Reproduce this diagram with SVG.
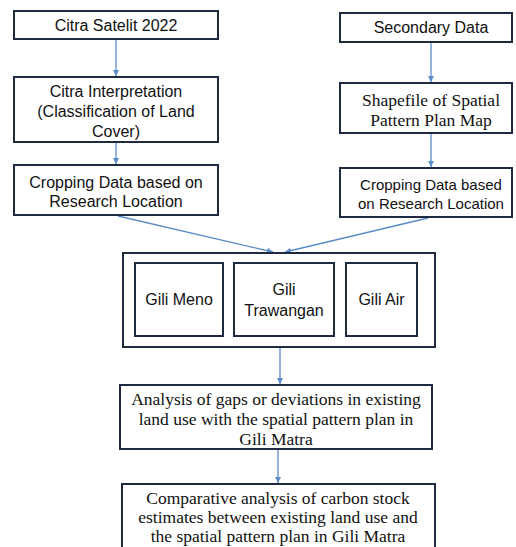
<svg xmlns="http://www.w3.org/2000/svg" width="516" height="547" viewBox="0 0 516 547">
<style>
.box{fill:#fff;stroke:#1e2a40;stroke-width:2}
.sans{font-family:"Liberation Sans",Arial,sans-serif;font-size:16px;fill:#111;text-anchor:middle}
.sm{font-size:15px}
.serif{font-family:"Liberation Serif","Times New Roman",serif;font-size:17.5px;fill:#111;text-anchor:middle}
.con{stroke:#5b8cc8;stroke-width:1.3;fill:none;marker-end:url(#ah)}
</style>
<defs>
<marker id="ah" markerWidth="8" markerHeight="8" refX="6" refY="3" orient="auto" markerUnits="userSpaceOnUse">
<path d="M0,0 L6,3 L0,6 Z" fill="#5b8cc8"/>
</marker>
</defs>
<rect width="516" height="547" fill="#fff"/>
<g id="connectors">
<line class="con" x1="116" y1="40" x2="116" y2="76"/>
<line class="con" x1="116" y1="143" x2="116" y2="164"/>
<line class="con" x1="431" y1="43" x2="431" y2="82"/>
<line class="con" x1="431" y1="134" x2="431" y2="167"/>
<line class="con" x1="118" y1="216" x2="273" y2="252"/>
<line class="con" x1="428" y1="218" x2="285" y2="252"/>
<line class="con" x1="280" y1="348" x2="280" y2="384"/>
<line class="con" x1="278" y1="450" x2="278" y2="483"/>
</g>
<g id="n1"><rect class="box" x="14" y="11" width="204" height="28"/><text class="sans" x="116" y="31">Citra Satelit 2022</text></g>
<g id="n2"><rect class="box" x="14" y="77" width="204" height="65"/>
<text class="sans" x="116" y="97">Citra Interpretation</text>
<text class="sans" x="116" y="117">(Classification of Land</text>
<text class="sans" x="116" y="137">Cover)</text></g>
<g id="n3"><rect class="box" x="14" y="165" width="204" height="50"/>
<text class="sans" x="116" y="188">Cropping Data based on</text>
<text class="sans" x="116" y="207">Research Location</text></g>
<g id="n4"><rect class="box" x="340" y="13" width="172" height="29"/><text class="sans" x="431" y="33">Secondary Data</text></g>
<g id="n5"><rect class="box" x="340" y="83" width="172" height="50"/>
<text class="serif" x="431" y="106">Shapefile of Spatial</text>
<text class="serif" x="431" y="126">Pattern Plan Map</text></g>
<g id="n6"><rect class="box" x="340" y="168" width="172" height="49"/>
<text class="sans sm" x="431" y="190">Cropping Data based</text>
<text class="sans sm" x="431" y="209">on Research Location</text></g>
<g id="n7"><rect class="box" x="123" y="253" width="312" height="94"/></g>
<g id="n8"><rect class="box" x="135" y="263" width="88" height="73"/><text class="sans" x="179" y="305">Gili Meno</text></g>
<g id="n9"><rect class="box" x="234" y="263" width="100" height="73"/>
<text class="sans" x="284" y="295">Gili</text>
<text class="sans" x="284" y="316">Trawangan</text></g>
<g id="n10"><rect class="box" x="346" y="263" width="71" height="73"/><text class="sans" x="381.5" y="305">Gili Air</text></g>
<g id="n11"><rect class="box" x="120" y="385" width="312" height="64"/>
<text class="serif" x="276" y="405">Analysis of gaps or deviations in existing</text>
<text class="serif" x="276" y="425">land use with the spatial pattern plan in</text>
<text class="serif" x="276" y="445">Gili Matra</text></g>
<g id="n12"><rect class="box" x="122" y="484" width="313" height="70"/>
<text class="serif" x="278" y="504">Comparative analysis of carbon stock</text>
<text class="serif" x="278" y="523">estimates between existing land use and</text>
<text class="serif" x="278" y="542">the spatial pattern plan in Gili Matra</text></g>
</svg>
